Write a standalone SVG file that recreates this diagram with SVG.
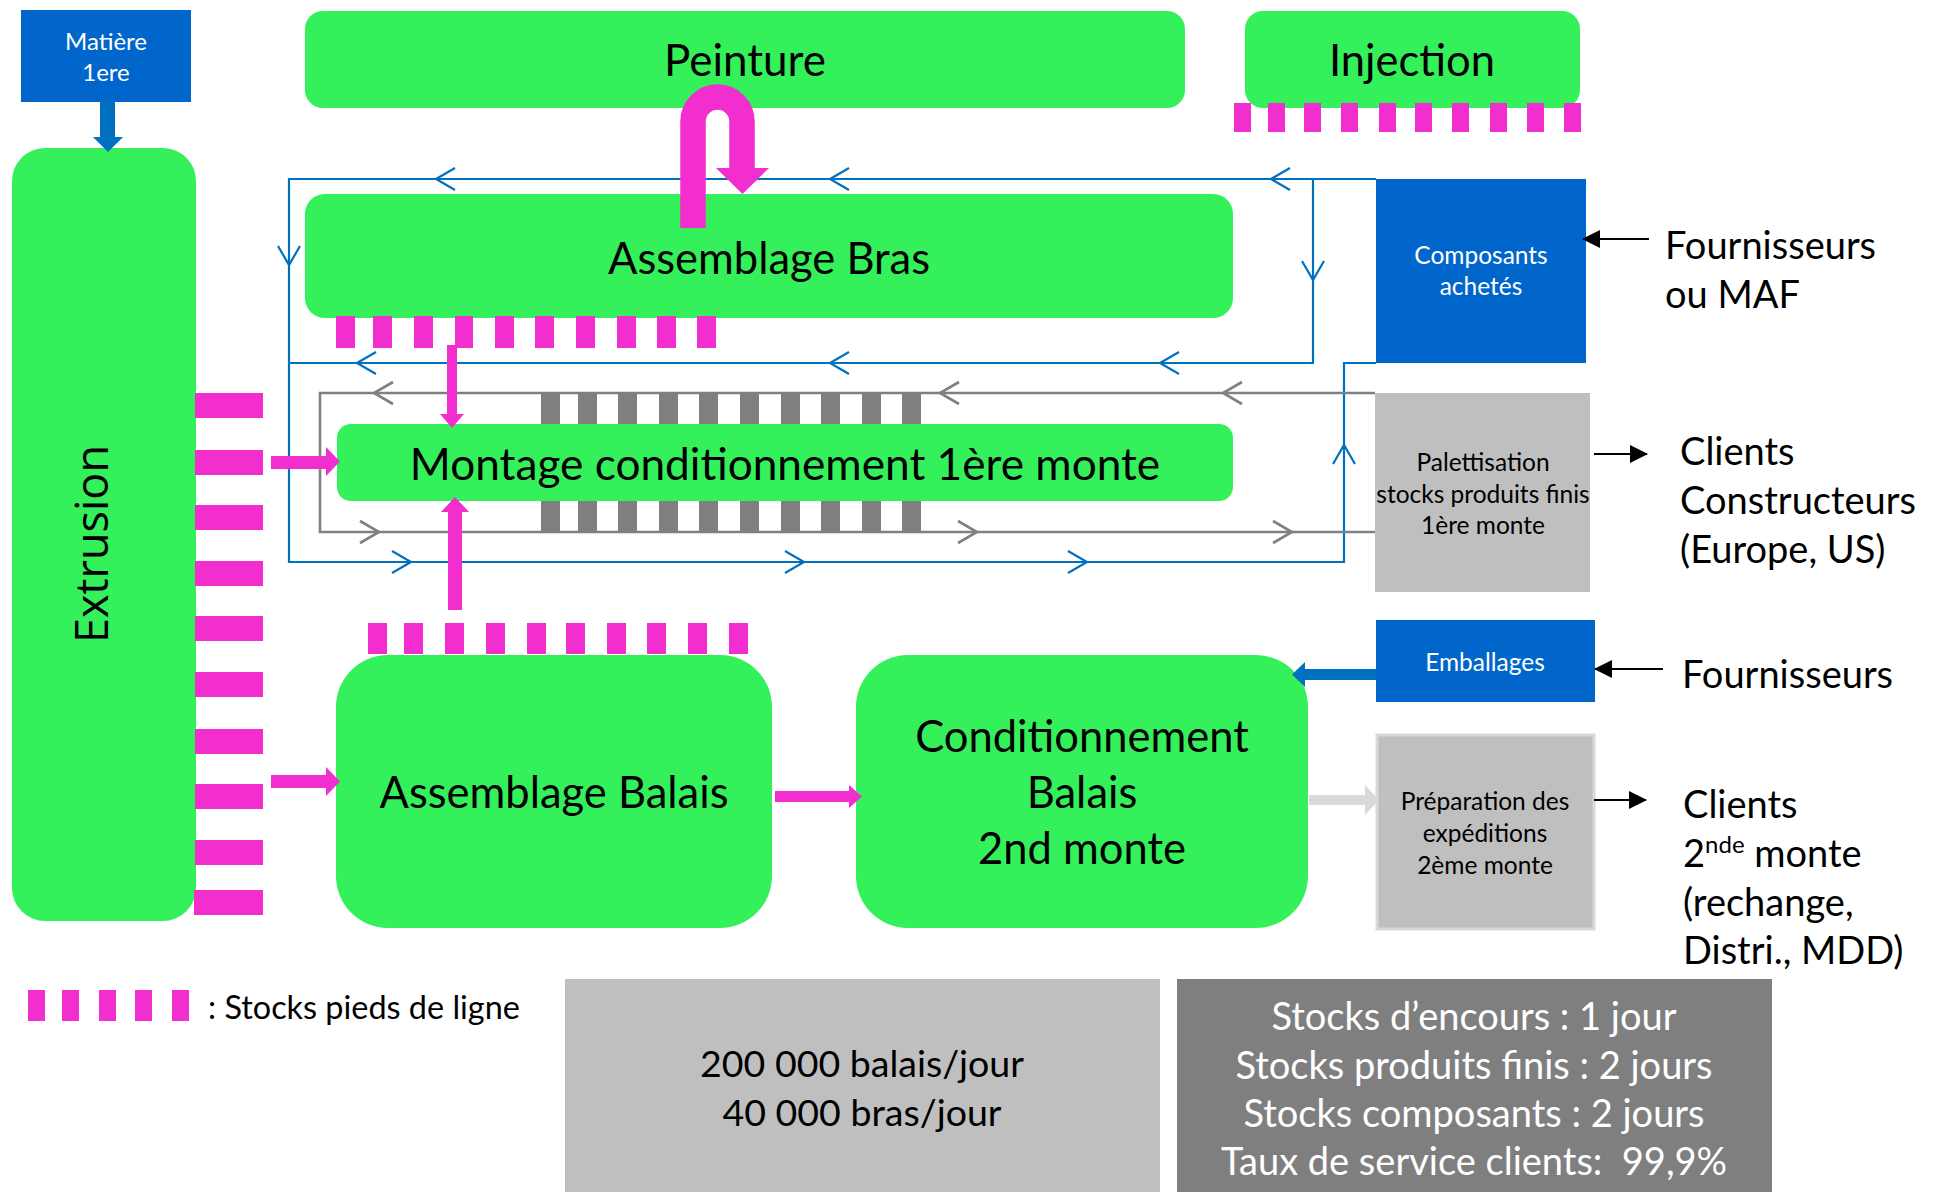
<svg xmlns="http://www.w3.org/2000/svg" width="1939" height="1192" viewBox="0 0 1939 1192">
  <defs>
    <style>
      .node{fill:#34F05A}
      .stock{fill:#F22ECE}
      .wip{fill:#7F7F7F}
      .buy{fill:#0066CC}
      .ship{fill:#BFBFBF}
      .kpi{fill:#7F7F7F}
      .flow-b{fill:none;stroke:#0070C0;stroke-width:2.2}
      .flow-g{fill:none;stroke:#808080;stroke-width:2.6}
      .pink{fill:#F22ECE}
      .bluearrow{fill:#0070C0}
      .ext-link{fill:none;stroke:#000;stroke-width:2;marker-end:url(#head)}
      .lbl{font-family:Lato,"Liberation Sans",sans-serif;fill:#000}
      .big{font-size:43.5px;text-anchor:middle}
      .small{font-size:24.5px;text-anchor:middle}
      .side{font-size:38px}
      .mid{text-anchor:middle}
      .white{fill:#fff}
      .ext{font-family:"Open Sans","Noto Sans",sans-serif;font-size:45px;text-anchor:middle;fill:#000}
    </style>
    <!-- open chevron, tip at origin, pointing to -x -->
    <path id="chev" d="M19,-11 L0,0 L19,11"/>
    <marker id="head" markerWidth="18" markerHeight="18" refX="17" refY="9" orient="auto" markerUnits="userSpaceOnUse">
      <path d="M0,0 L18,9 L0,18 z" fill="#000"/>
    </marker>
  </defs>

  <rect width="1939" height="1192" fill="#fff"/>

  <!-- process nodes -->
  <g id="matiere">
    <rect class="buy" x="21" y="10" width="170" height="92"/>
    <text class="lbl small white" style="font-size:24px" x="106" y="50">Matière</text>
    <text class="lbl small white" style="font-size:24px" x="106" y="81">1ere</text>
  </g>

  <g id="extrusion">
    <rect class="node" x="12" y="148" width="184" height="773" rx="33" ry="33"/>
    <text class="ext" transform="translate(108,544) rotate(-90)">Extrusion</text>
  </g>

  <g id="peinture">
    <rect class="node" x="305" y="11" width="880" height="97" rx="18" ry="18"/>
    <text class="lbl big" style="font-size:44px" x="745" y="76">Peinture</text>
  </g>

  <g id="injection">
    <rect class="node" x="1245" y="11" width="335" height="97" rx="18" ry="18"/>
    <text class="lbl big" x="1412" y="76">Injection</text>
  </g>

  <g id="assemblage-bras">
    <rect class="node" x="305" y="194" width="928" height="124" rx="20" ry="20"/>
    <text class="lbl big" x="769" y="274">Assemblage Bras</text>
  </g>

  <g id="montage">
    <rect class="node" x="337" y="424" width="896" height="77" rx="14" ry="14"/>
    <text class="lbl big" style="font-size:44.2px" x="785" y="480">Montage conditionnement 1ère monte</text>
  </g>

  <g id="assemblage-balais">
    <rect class="node" x="336" y="655" width="436" height="273" rx="52" ry="52"/>
    <text class="lbl big" x="554" y="808">Assemblage Balais</text>
  </g>

  <g id="conditionnement">
    <rect class="node" x="856" y="655" width="452" height="273" rx="52" ry="52"/>
    <text class="lbl big" x="1082" y="752">Conditionnement</text>
    <text class="lbl big" x="1082" y="808">Balais</text>
    <text class="lbl big" x="1082" y="864">2nd monte</text>
  </g>

  <g id="composants">
    <rect class="buy" x="1376" y="179" width="210" height="184"/>
    <text class="lbl small white" x="1481" y="264">Composants</text>
    <text class="lbl small white" x="1481" y="295">achetés</text>
  </g>

  <g id="palettisation">
    <rect class="ship" x="1375" y="393" width="215" height="199"/>
    <text class="lbl small" x="1483" y="471">Palettisation</text>
    <text class="lbl small" x="1483" y="503">stocks produits finis</text>
    <text class="lbl small" x="1483" y="534">1ère monte</text>
  </g>

  <g id="emballages">
    <rect class="buy" x="1376" y="620" width="219" height="82"/>
    <text class="lbl small white" x="1485" y="671">Emballages</text>
  </g>

  <g id="preparation">
    <rect class="ship" x="1377" y="735" width="217" height="194" stroke="#D9D9D9" stroke-width="3"/>
    <text class="lbl small" x="1485" y="810">Préparation des</text>
    <text class="lbl small" x="1485" y="842">expéditions</text>
    <text class="lbl small" x="1485" y="874">2ème monte</text>
  </g>

  <!-- outside partners -->
  <g id="fournisseurs-maf">
    <text class="lbl side" x="1665" y="259">Fournisseurs</text>
    <text class="lbl side" x="1665" y="308">ou MAF</text>
  </g>
  <g id="clients-constructeurs">
    <text class="lbl side" x="1680" y="465">Clients</text>
    <text class="lbl side" x="1680" y="514">Constructeurs</text>
    <text class="lbl side" x="1680" y="563">(Europe, US)</text>
  </g>
  <g id="fournisseurs">
    <text class="lbl side" x="1682" y="688">Fournisseurs</text>
  </g>
  <g id="clients-rechange">
    <text class="lbl side" x="1683" y="818">Clients</text>
    <text class="lbl side" x="1683" y="867">2<tspan style="font-size:24px" dy="-14">nde</tspan><tspan dy="14"> monte</tspan></text>
    <text class="lbl side" x="1683" y="916">(rechange,</text>
    <text class="lbl side" x="1683" y="964">Distri., MDD)</text>
  </g>

  <!-- line-side stocks -->
  <g id="stocks-extrusion" class="stock">
    <rect x="195" y="393" width="68" height="25"/>
    <rect x="195" y="450" width="68" height="25"/>
    <rect x="195" y="505" width="68" height="25"/>
    <rect x="195" y="561" width="68" height="25"/>
    <rect x="195" y="616" width="68" height="25"/>
    <rect x="195" y="672" width="68" height="25"/>
    <rect x="195" y="729" width="68" height="25"/>
    <rect x="195" y="784" width="68" height="25"/>
    <rect x="195" y="840" width="68" height="25"/>
    <rect x="194" y="890" width="69" height="25"/>
  </g>
  <g id="stocks-injection" class="stock">
    <rect x="1234" y="103" width="17" height="29"/>
    <rect x="1268" y="103" width="17" height="29"/>
    <rect x="1304" y="103" width="17" height="29"/>
    <rect x="1341" y="103" width="17" height="29"/>
    <rect x="1379" y="103" width="17" height="29"/>
    <rect x="1415" y="103" width="17" height="29"/>
    <rect x="1452" y="103" width="17" height="29"/>
    <rect x="1490" y="103" width="17" height="29"/>
    <rect x="1527" y="103" width="17" height="29"/>
    <rect x="1564" y="103" width="17" height="29"/>
  </g>
  <g id="stocks-bras" class="stock">
    <rect x="336" y="316" width="19" height="32"/>
    <rect x="373" y="316" width="19" height="32"/>
    <rect x="414" y="316" width="19" height="32"/>
    <rect x="455" y="316" width="18" height="32"/>
    <rect x="495" y="316" width="19" height="32"/>
    <rect x="535" y="316" width="19" height="32"/>
    <rect x="576" y="316" width="19" height="32"/>
    <rect x="617" y="316" width="19" height="32"/>
    <rect x="657" y="316" width="19" height="32"/>
    <rect x="697" y="316" width="19" height="32"/>
  </g>
  <g id="stocks-balais" class="stock">
    <rect x="368" y="623" width="19" height="31"/>
    <rect x="404" y="623" width="19" height="31"/>
    <rect x="445" y="623" width="19" height="31"/>
    <rect x="486" y="623" width="19" height="31"/>
    <rect x="527" y="623" width="19" height="31"/>
    <rect x="566" y="623" width="19" height="31"/>
    <rect x="607" y="623" width="19" height="31"/>
    <rect x="647" y="623" width="19" height="31"/>
    <rect x="688" y="623" width="19" height="31"/>
    <rect x="729" y="623" width="19" height="31"/>
  </g>

  <!-- flows -->
  <g id="connectors">
    <!-- component supply loop (blue) -->
    <path class="flow-b" d="M1376,179 H289 V562 H1344 V363 H1376"/>
    <path class="flow-b" d="M1313,179 V363 H289"/>
    <use href="#chev" class="flow-b" transform="translate(436,179)"/>
    <use href="#chev" class="flow-b" transform="translate(830,179)"/>
    <use href="#chev" class="flow-b" transform="translate(1271,179)"/>
    <use href="#chev" class="flow-b" transform="translate(357,363)"/>
    <use href="#chev" class="flow-b" transform="translate(830,363)"/>
    <use href="#chev" class="flow-b" transform="translate(1160,363)"/>
    <use href="#chev" class="flow-b" transform="translate(289,265) rotate(-90)"/>
    <use href="#chev" class="flow-b" transform="translate(1313,280) rotate(-90)"/>
    <use href="#chev" class="flow-b" transform="translate(411,562) rotate(180)"/>
    <use href="#chev" class="flow-b" transform="translate(804,562) rotate(180)"/>
    <use href="#chev" class="flow-b" transform="translate(1087,562) rotate(180)"/>
    <use href="#chev" class="flow-b" transform="translate(1344,445) rotate(90)"/>

    <!-- finished goods loop (grey) -->
    <path class="flow-g" d="M1375,393 H320 V532 H1375"/>
    <use href="#chev" class="flow-g" transform="translate(374,393)"/>
    <use href="#chev" class="flow-g" transform="translate(940,393)"/>
    <use href="#chev" class="flow-g" transform="translate(1223,393)"/>
    <use href="#chev" class="flow-g" transform="translate(379,532) rotate(180)"/>
    <use href="#chev" class="flow-g" transform="translate(977,532) rotate(180)"/>
    <use href="#chev" class="flow-g" transform="translate(1292,532) rotate(180)"/>

    <!-- work in progress around the first-fit line -->
    <g class="wip">
      <rect x="541" y="393" width="19" height="31"/>
      <rect x="578" y="393" width="19" height="31"/>
      <rect x="618" y="393" width="19" height="31"/>
      <rect x="659" y="393" width="19" height="31"/>
      <rect x="699" y="393" width="19" height="31"/>
      <rect x="740" y="393" width="19" height="31"/>
      <rect x="781" y="393" width="19" height="31"/>
      <rect x="821" y="393" width="19" height="31"/>
      <rect x="862" y="393" width="19" height="31"/>
      <rect x="902" y="393" width="19" height="31"/>
      <rect x="541" y="501" width="19" height="31"/>
      <rect x="578" y="501" width="19" height="31"/>
      <rect x="618" y="501" width="19" height="31"/>
      <rect x="659" y="501" width="19" height="31"/>
      <rect x="699" y="501" width="19" height="31"/>
      <rect x="740" y="501" width="19" height="31"/>
      <rect x="781" y="501" width="19" height="31"/>
      <rect x="821" y="501" width="19" height="31"/>
      <rect x="862" y="501" width="19" height="31"/>
      <rect x="902" y="501" width="19" height="31"/>
    </g>

    <!-- raw material feed -->
    <polygon class="bluearrow" points="100,101 115,101 115,137 123,137 108,152 93,137 100,137"/>
    <!-- packaging feed -->
    <polygon class="bluearrow" points="1376,669 1305,669 1305,662 1292,674.5 1305,687 1305,680 1376,680"/>
    <!-- to shipping -->
    <polygon fill="#D9D9D9" points="1309,795 1365,795 1365,785 1379,800 1365,815 1365,805 1309,805"/>

    <!-- material flows (magenta) -->
    <path d="M693,228 V121.5 A24.5,24.5 0 0 1 742,121.5 V170" fill="none" stroke="#F22ECE" stroke-width="25.5"/>
    <polygon class="pink" points="716,168 769,168 742.5,194"/>
    <polygon class="pink" points="447,345 457,345 457,414 464,414 452,428 440,414 447,414"/>
    <polygon class="pink" points="448,610 462,610 462,512 469,512 455,497 441,512 448,512"/>
    <polygon class="pink" points="271,456 326,456 326,447 340,461.5 326,476 326,469 271,469"/>
    <polygon class="pink" points="271,775 326,775 326,767 340,781.5 326,796 326,788 271,788"/>
    <polygon class="pink" points="775,791 849,791 849,785 862,796.5 849,808 849,802 775,802"/>

    <!-- suppliers and customers -->
    <line class="ext-link" x1="1649" y1="239" x2="1583" y2="239"/>
    <line class="ext-link" x1="1594" y1="454" x2="1647" y2="454"/>
    <line class="ext-link" x1="1663" y1="669" x2="1595" y2="669"/>
    <line class="ext-link" x1="1594" y1="800" x2="1646" y2="800"/>
  </g>

  <!-- legend -->
  <g id="legend">
    <g class="stock">
      <rect x="28" y="990" width="17" height="31"/>
      <rect x="62" y="990" width="17" height="31"/>
      <rect x="99" y="990" width="17" height="31"/>
      <rect x="135" y="990" width="17" height="31"/>
      <rect x="172" y="990" width="17" height="31"/>
    </g>
    <text class="lbl" style="font-size:32.4px" x="208" y="1019">: Stocks pieds de ligne</text>
  </g>

  <!-- key figures -->
  <g id="volumes">
    <rect class="ship" x="565" y="979" width="595" height="213"/>
    <text class="lbl mid" style="font-size:37.5px" x="862" y="1077">200 000 balais/jour</text>
    <text class="lbl mid" style="font-size:37.5px" x="862" y="1126">40 000 bras/jour</text>
  </g>
  <g id="indicateurs">
    <rect class="kpi" x="1177" y="979" width="595" height="213"/>
    <text class="lbl mid white" style="font-size:38px" x="1474" y="1030">Stocks d’encours : 1 jour</text>
    <text class="lbl mid white" style="font-size:38px" x="1474" y="1079">Stocks produits finis : 2 jours</text>
    <text class="lbl mid white" style="font-size:38px" x="1474" y="1127">Stocks composants : 2 jours</text>
    <text class="lbl mid white" style="font-size:38px" x="1474" y="1175" xml:space="preserve">Taux de service clients:  99,9%</text>
  </g>
</svg>
